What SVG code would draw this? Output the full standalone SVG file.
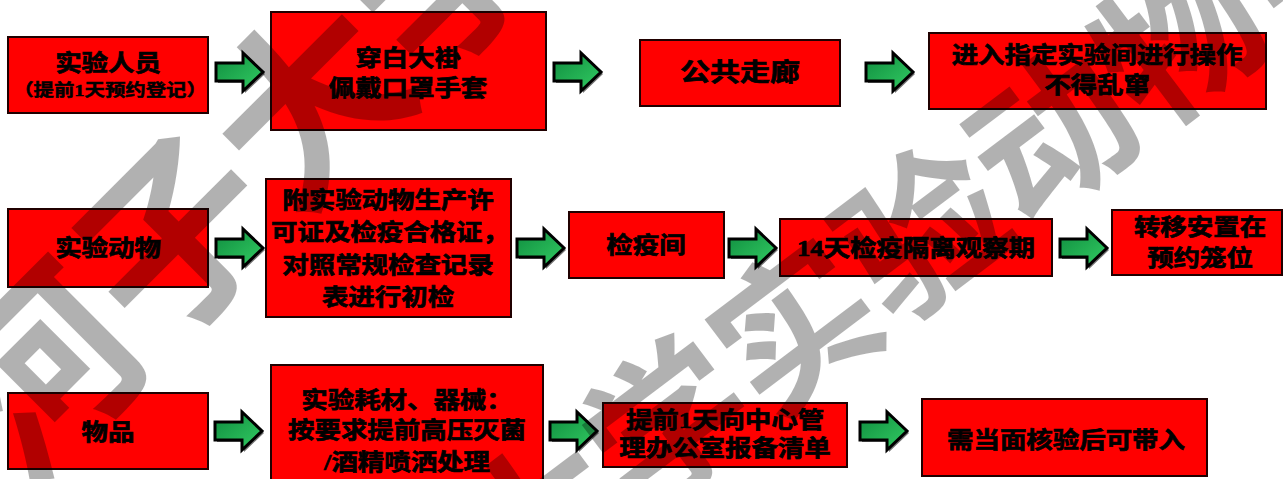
<svg xmlns="http://www.w3.org/2000/svg" xmlns:xlink="http://www.w3.org/1999/xlink" width="1283" height="479" viewBox="0 0 1283 479">
<style>
.box{fill:#ff0000;stroke:#200000;stroke-width:2}
.t{font-family:"Liberation Serif","Noto Sans CJK SC",serif;font-weight:bold;font-size:23px;fill:#000;stroke:#000;stroke-width:0.7px;text-anchor:middle}
.s{font-size:17px;stroke-width:0.5px}
.arr{fill:url(#g);stroke:#000;stroke-width:3;stroke-linejoin:miter}
.sh{fill:#000;opacity:.55}
.wm{font-family:"Noto Sans CJK SC",sans-serif;font-weight:bold;fill:#000;opacity:.3}
</style>
<defs>
<linearGradient id="g" x1="0" y1="0" x2="1" y2="1">
<stop offset="0" stop-color="#0f8d3f"/>
<stop offset="1" stop-color="#33cc63"/>
</linearGradient>
<path id="ap" d="M0,-9 H27 V-19 L47,0 L27,19 V9 H0 Z"/>
<g id="arrow">
<use xlink:href="#ap" class="sh" transform="translate(2,2)"/>
<use xlink:href="#ap" class="arr"/>
</g>
</defs>
<rect width="1283" height="479" fill="#fff"/>
<g id="connectors">
<use xlink:href="#arrow" transform="translate(216,72)"/>
<use xlink:href="#arrow" transform="translate(554,72)"/>
<use xlink:href="#arrow" transform="translate(866,72)"/>
<use xlink:href="#arrow" transform="translate(216,248)"/>
<use xlink:href="#arrow" transform="translate(517,248)"/>
<use xlink:href="#arrow" transform="translate(729,248)"/>
<use xlink:href="#arrow" transform="translate(1060,248)"/>
<use xlink:href="#arrow" transform="translate(215,431)"/>
<use xlink:href="#arrow" transform="translate(550,431)"/>
<use xlink:href="#arrow" transform="translate(860,431)"/>
</g>
<g id="n1"><rect class="box" x="8" y="37" width="200" height="76"/>
<text class="t" transform="translate(108,71) scale(1.15,1)">实验人员</text>
<text class="t s" transform="translate(110,96) scale(1.2,1)">（提前1天预约登记）</text></g>
<g id="n2"><rect class="box" x="271" y="12" width="275" height="118"/>
<text class="t" transform="translate(408,66) scale(1.15,1)">穿白大褂</text>
<text class="t" transform="translate(408,96) scale(1.15,1)">佩戴口罩手套</text></g>
<g id="n3"><rect class="box" x="640" y="40" width="200" height="66"/>
<text class="t" style="font-size:25px" transform="translate(740,81) scale(1.2,1)">公共走廊</text></g>
<g id="n4"><rect class="box" x="929" y="33" width="337" height="76"/>
<text class="t" transform="translate(1097,63) scale(1.15,1)">进入指定实验间进行操作</text>
<text class="t" transform="translate(1097,93) scale(1.15,1)">不得乱窜</text></g>
<g id="n5"><rect class="box" x="8" y="209" width="200" height="78"/>
<text class="t" transform="translate(108,256) scale(1.15,1)">实验动物</text></g>
<g id="n6"><rect class="box" x="266" y="179" width="245" height="138"/>
<text class="t" transform="translate(388,208) scale(1.15,1)">附实验动物生产许</text>
<text class="t" transform="translate(390,240) scale(1.15,1)">可证及检疫合格证，</text>
<text class="t" transform="translate(388,273) scale(1.15,1)">对照常规检查记录</text>
<text class="t" transform="translate(388,305) scale(1.15,1)">表进行初检</text></g>
<g id="n7"><rect class="box" x="569" y="212" width="155" height="66"/>
<text class="t" transform="translate(646,253) scale(1.15,1)">检疫间</text></g>
<g id="n8"><rect class="box" x="780" y="219" width="272" height="57"/>
<text class="t" transform="translate(916,256) scale(1.15,1)">14天检疫隔离观察期</text></g>
<g id="n9"><rect class="box" x="1112" y="210" width="170" height="65"/>
<text class="t" transform="translate(1200,235) scale(1.15,1)">转移安置在</text>
<text class="t" transform="translate(1200,266) scale(1.15,1)">预约笼位</text></g>
<g id="n10"><rect class="box" x="8" y="393" width="200" height="76"/>
<text class="t" transform="translate(108,440) scale(1.15,1)">物品</text></g>
<g id="n11"><rect class="box" x="271" y="365" width="272" height="120"/>
<text class="t" transform="translate(407,408) scale(1.15,1)">实验耗材、器械：</text>
<text class="t" transform="translate(407,438) scale(1.15,1)">按要求提前高压灭菌</text>
<text class="t" transform="translate(407,470) scale(1.15,1)">/酒精喷洒处理</text></g>
<g id="n12"><rect class="box" x="603" y="403" width="244" height="64"/>
<text class="t" transform="translate(725,428) scale(1.15,1)">提前1天向中心管</text>
<text class="t" transform="translate(725,456) scale(1.15,1)">理办公室报备清单</text></g>
<g id="n13"><rect class="box" x="922" y="399" width="285" height="77"/>
<text class="t" transform="translate(1066,448) scale(1.15,1)">需当面核验后可带入</text></g>
<g id="watermark">
<text class="wm" font-size="190" transform="translate(24,488) rotate(-45)">河子大学</text>
<text class="wm" font-size="160" transform="translate(512,616) rotate(-37)">大学实验动物中心</text>
</g>
</svg>
